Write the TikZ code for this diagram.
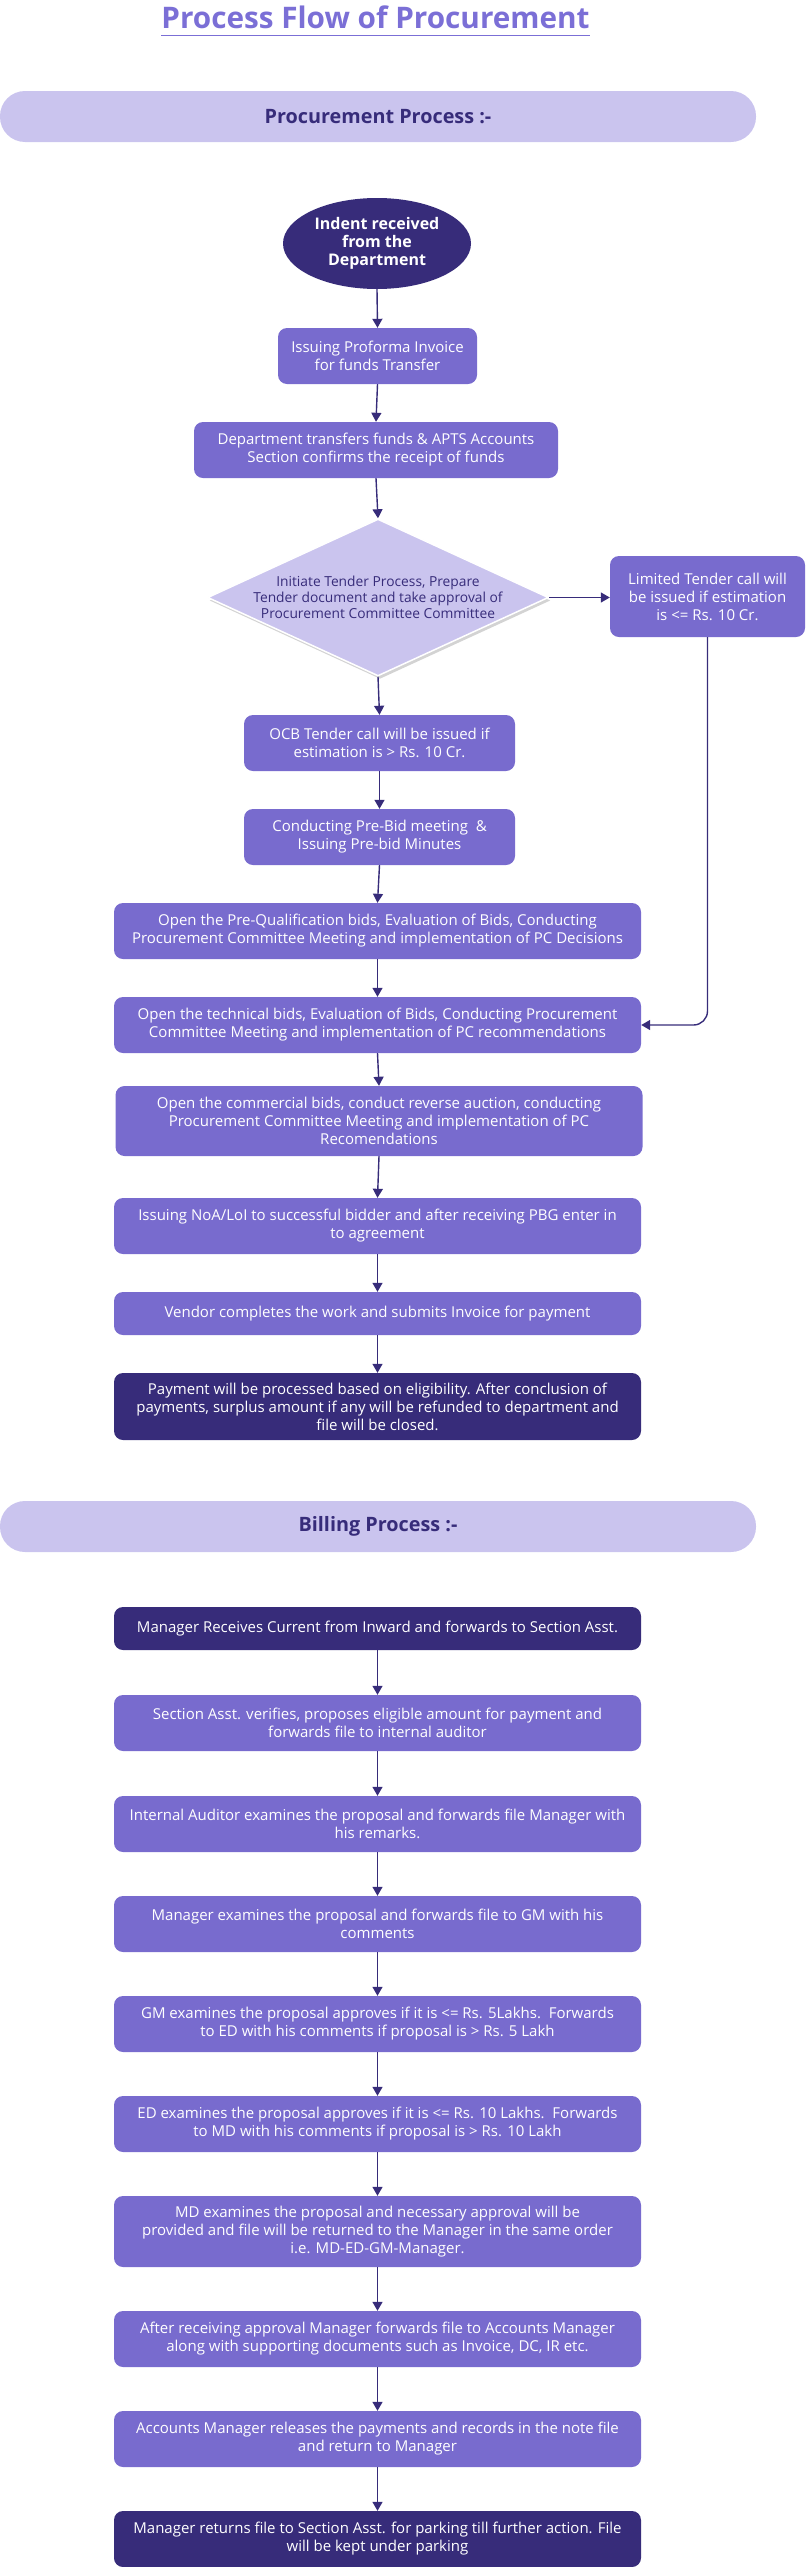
\documentclass[tikz,border=0pt]{standalone}
\usepackage{fontspec}
\setmainfont{Open Sans}
\usetikzlibrary{shapes.geometric,arrows.meta,shadows}
\definecolor{boxc}{HTML}{786BCE}
\definecolor{navy}{HTML}{372C7A}
\definecolor{lav}{HTML}{CAC4EE}
\definecolor{titlec}{HTML}{7B6FD6}
\begin{document}
\begin{tikzpicture}[x=1pt,y=-1pt,
  pbox/.style={rectangle, rounded corners=9pt, fill=boxc, text=white, align=center,
    font=\fontsize{15}{18}\selectfont, inner sep=0pt, minimum width=527pt, minimum height=56pt},
  dbox/.style={pbox, fill=navy},
  bandst/.style={rectangle, rounded corners=25pt, fill=lav, text=navy, inner sep=0pt,
    minimum width=756pt, minimum height=51pt, font=\fontsize{19.8}{22}\selectfont\bfseries},
  arr/.style={draw=navy, line width=1.4pt, -{Triangle[length=9pt,width=10pt]}}
]
\useasboundingbox (0,0) rectangle (806,2567);

% title
\node[anchor=base, inner sep=0pt, text=titlec, font=\fontsize{29.7}{34}\selectfont\bfseries] (title) at (375.5,28.3) {Process Flow of Procurement};
\draw[titlec, line width=1.6pt] ([yshift=-7pt]title.base west) -- ([yshift=-7pt]title.base east);

% procurement
\node[bandst] (band1) at (378,116.5) {Procurement Process :-};
\node[ellipse, fill=navy, text=white, minimum width=188pt, minimum height=91pt, inner sep=0pt, align=center,
  font=\fontsize{16}{18}\selectfont\bfseries] (ell) at (377,243.5) {Indent received\\from the\\Department};
\node[pbox, minimum width=199pt] (b1) at (377.5,356) {Issuing Proforma Invoice\\for funds Transfer};
\node[pbox, minimum width=364pt] (b2) at (376,450) {Department transfers funds \& APTS Accounts\\Section confirms the receipt of funds};
\node[diamond, fill=lav, draw=white, line width=1.5pt, minimum width=341pt, minimum height=157pt, inner sep=0pt,
  drop shadow={opacity=0.35, shadow xshift=2pt, shadow yshift=-3pt}] (dia) at (378,597.5) {};
\node[text=navy, align=center, inner sep=0pt, font=\fontsize{13.8}{16}\selectfont] (diatext) at (dia.center)
  {Initiate Tender Process, Prepare\\Tender document and take approval of\\Procurement Committee Committee};
\node[pbox, minimum width=195pt, minimum height=81pt] (lim) at (707.5,596.5) {Limited Tender call will\\be issued if estimation\\is <= Rs. 10 Cr.};
\node[pbox, minimum width=271pt] (ocb) at (379.5,743) {OCB Tender call will be issued if\\estimation is > Rs. 10 Cr.};
\node[pbox, minimum width=271pt] (pre) at (379.5,837) {Conducting Pre-Bid meeting\ \ \&\\Issuing Pre-bid Minutes};
\node[pbox] (pq) at (377.5,931) {Open the Pre-Qualification bids, Evaluation of Bids, Conducting\\Procurement Committee Meeting and implementation of PC Decisions};
\node[pbox] (tech) at (377.5,1025) {Open the technical bids, Evaluation of Bids, Conducting Procurement\\Committee Meeting and implementation of PC recommendations};
\node[pbox, minimum height=70pt] (comm) at (379,1121) {Open the commercial bids, conduct reverse auction, conducting\\Procurement Committee Meeting and implementation of PC\\Recomendations};
\node[pbox] (noa) at (377.5,1226) {Issuing NoA/LoI to successful bidder and after receiving PBG enter in\\to agreement};
\node[pbox, minimum height=43pt] (vend) at (377.5,1313.5) {Vendor completes the work and submits Invoice for payment};
\node[dbox, minimum height=67pt] (pay) at (377.5,1406.5) {Payment will be processed based on eligibility. After conclusion of\\payments, surplus amount if any will be refunded to department and\\file will be closed.};

\draw[arr] (ell.south) -- (b1.north);
\draw[arr] (b1.south) -- (b2.north);
\draw[arr] (b2.south) -- (dia.north);
\draw[arr] (dia.east) -- (dia.east -| lim.west);
\draw[arr] (dia.south) -- (ocb.north);
\draw[arr] (ocb.south) -- (pre.north);
\draw[arr] (pre.south) -- (pq.north);
\draw[arr] (pq.south) -- (tech.north);
\draw[arr, rounded corners=14pt] (lim.south) |- (tech.east);
\draw[arr] (tech.south) -- (comm.north);
\draw[arr] (comm.south) -- (noa.north);
\draw[arr] (noa.south) -- (vend.north);
\draw[arr] (vend.south) -- (pay.north);

% billing
\node[bandst] (band2) at (378,1526.5) {Billing Process :-};
\node[dbox, minimum height=43pt] (m1) at (377.5,1628.5) {Manager Receives Current from Inward and forwards to Section Asst.};
\node[pbox] (sa) at (377.5,1723) {Section Asst. verifies, proposes eligible amount for payment and\\forwards file to internal auditor};
\node[pbox] (ia) at (377.5,1824) {Internal Auditor examines the proposal and forwards file Manager with\\his remarks.};
\node[pbox] (me) at (377.5,1924) {Manager examines the proposal and forwards file to GM with his\\comments};
\node[pbox] (gm) at (377.5,2024) {GM examines the proposal approves if it is <= Rs. 5Lakhs.\ \ Forwards\\to ED with his comments if proposal is > Rs. 5 Lakh};
\node[pbox] (ed) at (377.5,2124) {ED examines the proposal approves if it is <= Rs. 10 Lakhs.\ \ Forwards\\to MD with his comments if proposal is > Rs. 10 Lakh};
\node[pbox, minimum height=71pt] (md) at (377.5,2231.5) {MD examines the proposal and necessary approval will be\\provided and file will be returned to the Manager in the same order\\i.e. MD-ED-GM-Manager.};
\node[pbox] (ar) at (377.5,2339) {After receiving approval Manager forwards file to Accounts Manager\\along with supporting documents such as Invoice, DC, IR etc.};
\node[pbox] (am) at (377.5,2439) {Accounts Manager releases the payments and records in the note file\\and return to Manager};
\node[dbox] (mr) at (377.5,2539) {Manager returns file to Section Asst. for parking till further action. File\\will be kept under parking};

\draw[arr] (m1.south) -- (sa.north);
\draw[arr] (sa.south) -- (ia.north);
\draw[arr] (ia.south) -- (me.north);
\draw[arr] (me.south) -- (gm.north);
\draw[arr] (gm.south) -- (ed.north);
\draw[arr] (ed.south) -- (md.north);
\draw[arr] (md.south) -- (ar.north);
\draw[arr] (ar.south) -- (am.north);
\draw[arr] (am.south) -- (mr.north);
\end{tikzpicture}
\end{document}
